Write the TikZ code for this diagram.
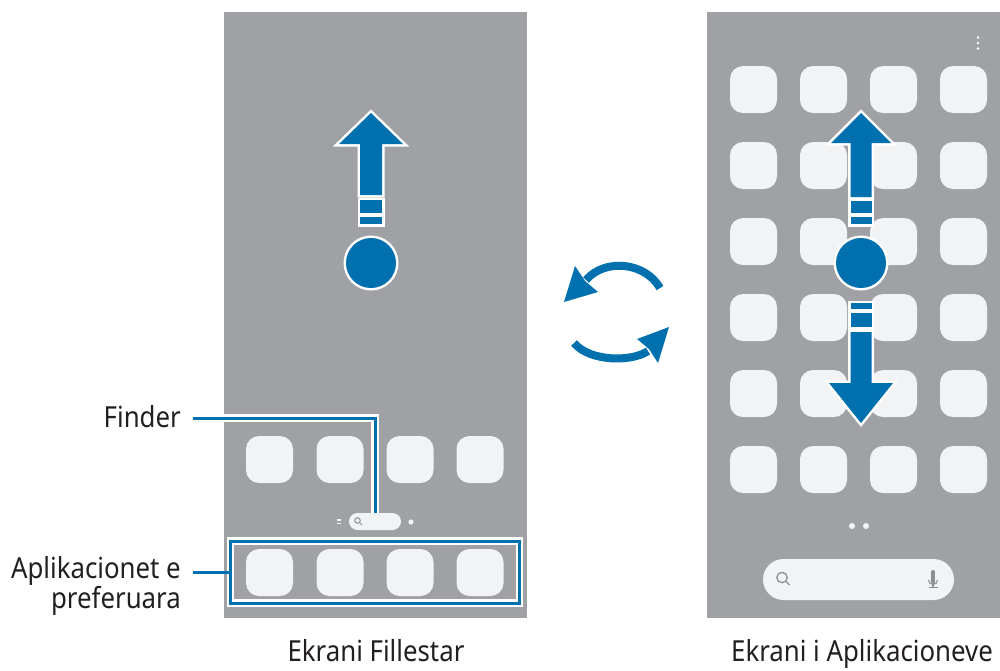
\documentclass[tikz,border=0pt]{standalone}
\usepackage{fontspec}
\setmainfont{Noto Sans}[FakeStretch=0.89]
\definecolor{phone}{HTML}{A0A1A5}
\definecolor{icon}{HTML}{F2F3F5}
\definecolor{sblue}{HTML}{0070AE}
\definecolor{ink}{HTML}{231F20}
\definecolor{glyph}{HTML}{8E8F93}
\begin{document}
\begin{tikzpicture}[x=1pt,y=-1pt,
  appicon/.style={fill=icon, rounded corners=13pt, minimum size=47pt, inner sep=0pt},
  screen/.style={fill=phone},
  callout/.style={draw=sblue, line width=3pt, preaction={draw=white, line width=7.5pt}},
  lbl/.style={text=ink, font=\fontsize{29}{30}\selectfont, inner sep=0pt},
  pill/.style={fill=icon, inner sep=0pt},
  blueshape/.style={fill=sblue},
  whiteback/.style={fill=white, draw=white, line width=5pt, line join=miter},
  rot/.style={draw=sblue, line width=8pt},
  glyphline/.style={draw=glyph, line width=1.3pt}
]
\useasboundingbox (0,0) rectangle (1000,670);

% screens
\fill[screen] (224,12) rectangle (527,618);
\fill[screen] (707,12) rectangle (1000,618);

% left screen icons
\foreach \x [count=\i] in {269.5,340,410,480} {
  \node[appicon] (lr\i) at (\x,459.5) {};
  \node[appicon] (ld\i) at (\x,572.5) {};
}

% left search bar and page indicators
\node[pill, minimum width=52pt, minimum height=17pt, rounded corners=8.5pt] (sbar) at (375,521.5) {};
\draw[glyph, line width=1pt] (357.5,520.5) circle[radius=2.8];
\draw[glyph, line width=1pt] (359.6,522.6) -- (362.2,525.2);
\draw[icon, line width=1.2pt] (336.5,520) -- (341,520);
\draw[icon, line width=1.2pt] (336.5,523.5) -- (341,523.5);
\fill[icon] (411,522) circle[radius=2.6];

% callouts
\coordinate (fstart) at (193,418);
\coordinate (astart) at (193,572);
\node[callout, minimum width=289pt, minimum height=62pt, inner sep=0pt] (dock) at (375,572) {};
\draw[callout] (fstart) -| (sbar.north);
\draw[draw=sblue, line width=3pt] (astart) -- (dock.west);

\node[lbl, anchor=base east] (finder) at (181,427) {Finder};
\node[lbl, anchor=base east, align=right] (fav) at (181,608) {Aplikacionet e\\preferuara};

% left up arrow
\begin{scope}[xshift=371pt]
  \path[whiteback] (0,113) -- (32,144) -- (11,144) -- (11,195) -- (-11,195) -- (-11,144) -- (-32,144) -- cycle;
  \path[whiteback] (-11,200) rectangle (11,213);
  \path[whiteback] (-11,217) rectangle (11,224);
  \fill[white] (0,263) circle[radius=27.5];
  \path[blueshape] (0,113) -- (32,144) -- (11,144) -- (11,195) -- (-11,195) -- (-11,144) -- (-32,144) -- cycle;
  \path[blueshape] (-11,200) rectangle (11,213);
  \path[blueshape] (-11,217) rectangle (11,224);
  \fill[sblue] (0,263) circle[radius=25];
\end{scope}

% right screen icons
\foreach \y [count=\j] in {89.5,165.5,241.5,317.5,393.5,469.5} {
  \foreach \x [count=\i] in {753.5,823.5,893.5,963.5} {
    \node[appicon] (a\j\i) at (\x,\y) {};
  }
}
% menu dots
\foreach \y in {37.5,43,48.5} \fill[white] (978,\y) circle[radius=1.4];
% page dots
\fill[icon] (852,526) circle[radius=3];
\fill[icon] (866,526) circle[radius=3];
% right search bar
\node[pill, minimum width=191pt, minimum height=41pt, rounded corners=20.5pt] (rbar) at (858.5,579.5) {};
\draw[glyphline] (782,577.5) circle[radius=5.2];
\draw[glyphline] (785.8,581.3) -- (789.5,585);
\fill[glyph] (931,572) rectangle (935,582);
\fill[glyph] (933,572) circle[radius=2];
\fill[glyph] (933,582) circle[radius=2];
\draw[glyph, line width=1.1pt] (928.5,580) arc[start angle=180, end angle=0, radius=4.5];
\draw[glyph, line width=1.1pt] (933,584.5) -- (933,587);
\draw[glyph, line width=1.1pt] (928.5,587.5) -- (937.5,587.5);

% right up/down arrows
\begin{scope}[xshift=861pt]
  \path[whiteback] (0,113) -- (30,143) -- (10.5,143) -- (10.5,197) -- (-10.5,197) -- (-10.5,143) -- (-30,143) -- cycle;
  \path[whiteback] (-10.5,201) rectangle (10.5,213);
  \path[whiteback] (-10.5,217) rectangle (10.5,224);
  \fill[white] (0,263) circle[radius=27.5];
  \path[whiteback] (-10.5,303) rectangle (10.5,309);
  \path[whiteback] (-10.5,313) rectangle (10.5,327);
  \path[whiteback] (-10.5,332) -- (10.5,332) -- (10.5,383) -- (32,383) -- (0,423) -- (-32,383) -- (-10.5,383) -- cycle;
  \path[blueshape] (0,113) -- (30,143) -- (10.5,143) -- (10.5,197) -- (-10.5,197) -- (-10.5,143) -- (-30,143) -- cycle;
  \path[blueshape] (-10.5,201) rectangle (10.5,213);
  \path[blueshape] (-10.5,217) rectangle (10.5,224);
  \fill[sblue] (0,263) circle[radius=25];
  \path[blueshape] (-10.5,303) rectangle (10.5,309);
  \path[blueshape] (-10.5,313) rectangle (10.5,327);
  \path[blueshape] (-10.5,332) -- (10.5,332) -- (10.5,383) -- (32,383) -- (0,423) -- (-32,383) -- (-10.5,383) -- cycle;
\end{scope}

% rotation arrows
\draw[rot] (660,288) .. controls (645,262) and (605,258) .. (586,280);
\fill[sblue] (564,302) -- (575,266) -- (585,281) -- (598,292) -- cycle;
\draw[rot] (574,343) .. controls (590,362) and (632,362) .. (648,351);
\fill[sblue] (669,327) -- (658,363) -- (649,349) -- (637,339) -- cycle;

% captions
\node[lbl, anchor=base] (cap1) at (376,661) {Ekrani Fillestar};
\node[lbl, anchor=base] (cap2) at (862,661) {Ekrani i Aplikacioneve};
\end{tikzpicture}
\end{document}
